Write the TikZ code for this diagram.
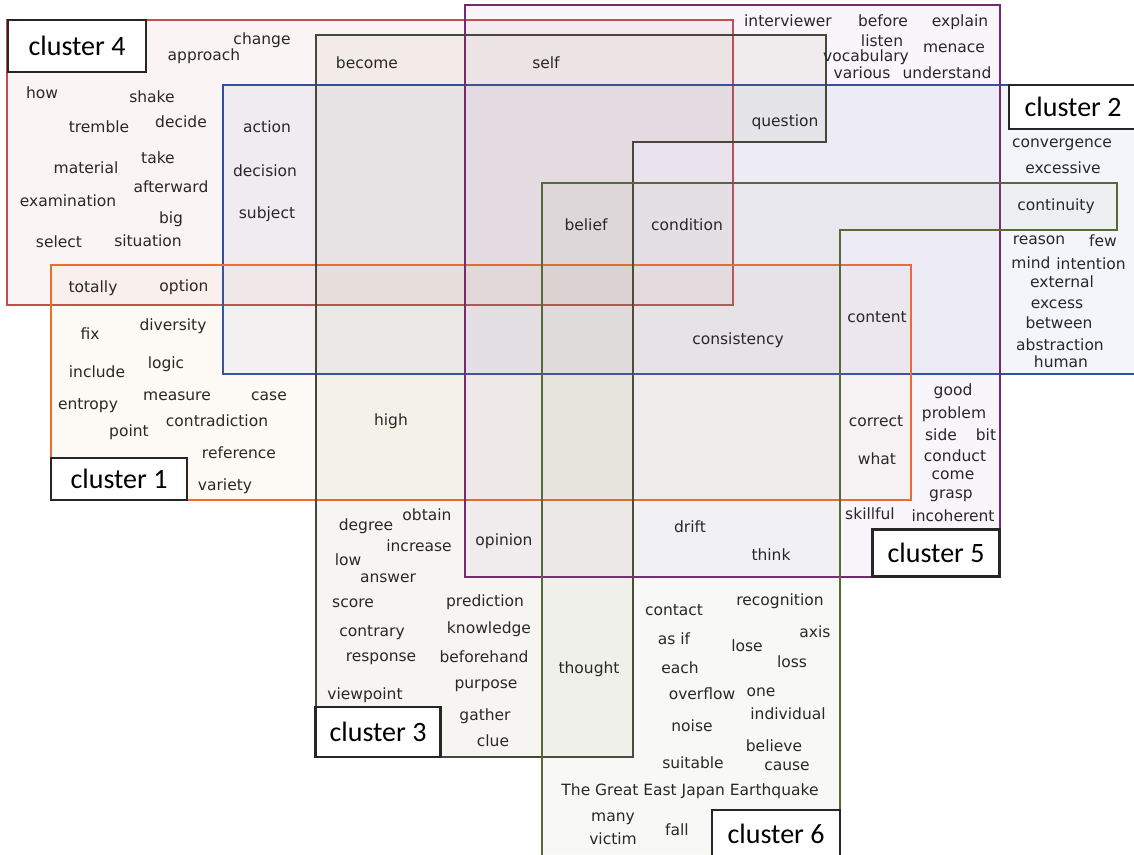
\documentclass[tikz,border=0pt]{standalone}
\usepackage{fontspec}
\setmainfont{DejaVu Sans}
\newfontfamily\tagfont{Carlito}
\usetikzlibrary{positioning}
\definecolor{clRed}{RGB}{192,80,77}
\definecolor{clRedFill}{RGB}{200,80,70}
\definecolor{clBlue}{RGB}{47,80,160}
\definecolor{clBlueFill}{RGB}{70,100,180}
\definecolor{clOrange}{RGB}{242,108,40}
\definecolor{clOrangeFill}{RGB}{230,170,110}
\definecolor{clPurple}{RGB}{118,40,115}
\definecolor{clPurpleFill}{RGB}{140,100,190}
\definecolor{clDark}{RGB}{72,72,58}
\definecolor{clDarkFill}{RGB}{115,100,40}
\definecolor{clOlive}{RGB}{88,104,56}
\definecolor{clOliveFill}{RGB}{140,165,105}
\definecolor{wordGray}{RGB}{40,40,40}
\tikzset{
  region/.style={line width=2pt, fill opacity=0.06, line join=miter},
  regionbold/.style={line width=2.6pt, fill opacity=0.06, line join=miter},
  word/.style={font=\fontsize{15.5}{17}\selectfont, text=wordGray, inner sep=0pt},
  tagbox/.style={draw=black!85, line width=2.6pt, fill=white, inner sep=0pt,
    font=\tagfont\fontsize{28}{30}\selectfont}
}
\begin{document}
\begin{tikzpicture}[x=1pt,y=-1pt]
  \useasboundingbox (0,0) rectangle (1134,854);
  \fill[white] (0,0) rectangle (1134,854);
  % cluster areas
  \filldraw[region, draw=clRed, fill=clRedFill] (7,20) rectangle (733,305);
  \filldraw[region, draw=clBlue, fill=clBlueFill] (223,85) rectangle (1140,374);
  \filldraw[region, draw=clOrange, fill=clOrangeFill] (51,265) rectangle (911,500);
  \filldraw[region, draw=clPurple, fill=clPurpleFill] (465,5) rectangle (1000,577);
  \filldraw[regionbold, draw=clDark, fill=clDarkFill]
    (316,35) -- (826,35) -- (826,142) -- (633,142) -- (633,757) -- (316,757) -- cycle;
  \filldraw[regionbold, draw=clOlive, fill=clOliveFill]
    (542,183) -- (1117,183) -- (1117,230) -- (840,230) -- (840,862) -- (542,862) -- cycle;
  % words
  \foreach \x/\y/\t [count=\i] in {262/40/change, 204/56/approach, 367/63/become, 546/63/self,
      42/93/how, 152/97/shake, 99/127/tremble, 181/122/decide, 267/127/action,
      86/168/material, 158/158/take, 265/171/decision, 171/187/afterward,
      68/201/examination, 267/214/subject, 171/219/big, 59/242/select,
      148/241/situation, 586/225/belief, 687/225/condition}
    \node[word] (wa\i) at (\x,\y) {\t};
  \foreach \x/\y/\t [count=\i] in {788/21/interviewer, 883/21/before, 960/22/explain,
      882/41/listen, 954/48/menace, 866/57/vocabulary, 862/73/various,
      947/73/understand, 785/122/question}
    \node[word] (wb\i) at (\x,\y) {\t};
  \foreach \x/\y/\t [count=\i] in {1062/145/convergence, 1063/168/excessive,
      1056/206/continuity, 1039/240/reason, 1103/241/few, 1031/263/mind,
      1091/264/intention, 1062/282/external, 1057/304/excess, 1059/323/between,
      1060/345/abstraction, 1061/362/human, 738/340/consistency, 877/317/content}
    \node[word] (wc\i) at (\x,\y) {\t};
  \foreach \x/\y/\t [count=\i] in {93/288/totally, 184/287/option, 90/334/fix,
      173/326/diversity, 97/372/include, 166/364/logic, 88/406/entropy,
      177/396/measure, 269/396/case, 217/421/contradiction, 129/432/point,
      239/453/reference, 225/486/variety, 391/421/high, 876/421/correct, 877/459/what}
    \node[word] (wd\i) at (\x,\y) {\t};
  \foreach \x/\y/\t [count=\i] in {953/391/good, 954/414/problem, 941/435/side,
      986/435/bit, 955/456/conduct, 953/475/come, 951/496/grasp, 953/516/incoherent,
      870/514/skillful, 690/527/drift, 771/555/think, 504/541/opinion}
    \node[word] (we\i) at (\x,\y) {\t};
  \foreach \x/\y/\t [count=\i] in {366/526/degree, 427/515/obtain, 419/546/increase,
      348/560/low, 388/578/answer, 353/603/score, 485/602/prediction,
      372/633/contrary, 489/629/knowledge, 381/659/response, 484/657/beforehand,
      365/695/viewpoint, 486/686/purpose, 485/716/gather, 493/741/clue,
      589/669/thought}
    \node[word] (wf\i) at (\x,\y) {\t};
  \foreach \x/\y/\t [count=\i] in {674/610/contact, 780/601/recognition, 674/639/as if,
      815/632/axis, 747/646/lose, 680/668/each, 792/662/loss, 702/694/overflow,
      761/692/one, 788/714/individual, 692/726/noise, 774/746/believe,
      693/763/suitable, 787/766/cause, 690/791/The Great East Japan Earthquake,
      613/819/many, 613/839/victim, 677/830/fall}
    \node[word] (wg\i) at (\x,\y) {\t};
  % cluster tags
  \node[tagbox, minimum width=138, minimum height=52] (tag4) at (77,46) {cluster 4};
  \node[tagbox, minimum width=128, minimum height=44] (tag2) at (1073,107) {cluster 2};
  \node[tagbox, minimum width=136, minimum height=42] (tag1) at (119,479) {cluster 1};
  \node[tagbox, minimum width=127, minimum height=47] (tag5) at (936,553) {cluster 5};
  \node[tagbox, minimum width=125, minimum height=50] (tag3) at (378,732) {cluster 3};
  \node[tagbox, minimum width=128, minimum height=48] (tag6) at (776,834) {cluster 6};
\end{tikzpicture}
\end{document}
